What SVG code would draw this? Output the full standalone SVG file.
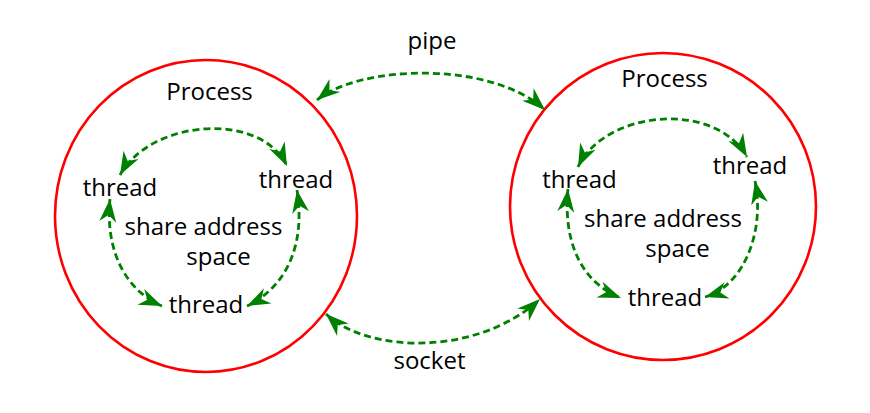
<svg xmlns="http://www.w3.org/2000/svg" width="870" height="413" viewBox="0 0 870 413">
<style>
.proc{fill:none;stroke:#ff0000;stroke-width:2.6}
.link{fill:none;stroke:#008000;stroke-width:2.8;stroke-dasharray:7 4;marker-start:url(#ah);marker-end:url(#ah)}
text{font-family:"Open Sans","Noto Sans",sans-serif;font-size:24px;fill:#000;text-anchor:middle}
</style>
<defs>
<marker id="ah" markerUnits="userSpaceOnUse" viewBox="-24 -10 26 20" refX="0" refY="0" markerWidth="26" markerHeight="20" orient="auto-start-reverse">
<path d="M0,0 L-23,-8.5 L-16,0 L-23,8.5 Z" fill="#008000"/>
</marker>
</defs>
<rect width="870" height="413" fill="#fff"/>
<g id="process-left">
<ellipse class="proc" cx="206" cy="216" rx="151" ry="156"/>
<text x="209.5" y="100">Process</text>
<text x="203.5" y="235">share address</text>
<text x="218.5" y="265">space</text>
</g>
<g id="thread-left-1"><text x="120" y="196">thread</text></g>
<g id="thread-left-2"><text x="296" y="188">thread</text></g>
<g id="thread-left-3"><text x="206" y="313">thread</text></g>
<g id="process-right">
<ellipse class="proc" cx="663" cy="206.5" rx="153" ry="153.5"/>
<text x="664.5" y="87">Process</text>
<text x="663" y="227">share address</text>
<text x="677.5" y="257">space</text>
</g>
<g id="thread-right-1"><text x="579.5" y="188">thread</text></g>
<g id="thread-right-2"><text x="750" y="174">thread</text></g>
<g id="thread-right-3"><text x="665" y="306">thread</text></g>
<g id="connectors">
<path class="link" d="M120 175 C150 120 260 110 287 166"/>
<path class="link" d="M110 199 C105 250 125 290 162 306"/>
<path class="link" d="M297 190 C305 240 290 285 247 306"/>
<path class="link" d="M578 167 C605 110 715 100 747 157"/>
<path class="link" d="M568 189 C563 240 580 282 621 298"/>
<path class="link" d="M755 181 C765 230 745 285 705 297"/>
<path class="link" d="M317 100 C360 65 490 60 545 110"/>
<path class="link" d="M326 314 C370 355 480 355 540 299"/>
</g>
<g id="labels">
<text x="432" y="49">pipe</text>
<text x="429.5" y="369">socket</text>
</g>
</svg>
